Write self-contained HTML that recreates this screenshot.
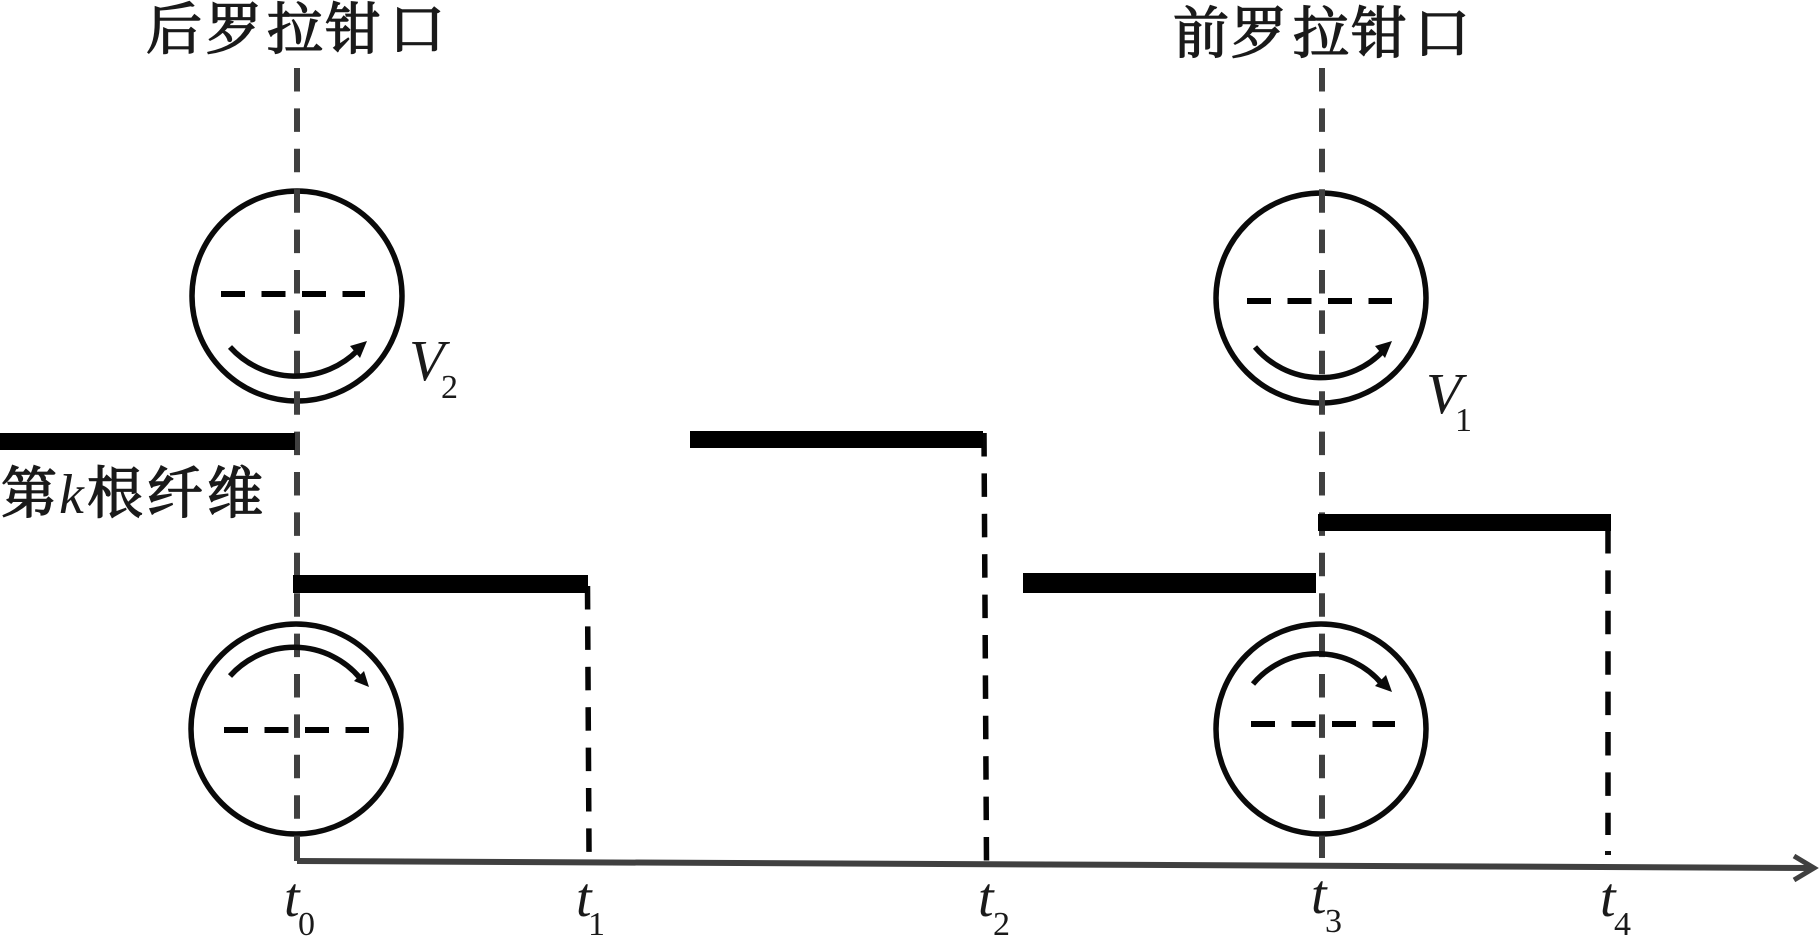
<!DOCTYPE html>
<html>
<head>
<meta charset="utf-8">
<style>
html,body{margin:0;padding:0;background:#fff;width:1820px;height:936px;overflow:hidden}
svg{display:block}
.cjk{font-family:"Liberation Serif","Noto Serif CJK SC",serif;font-size:56px;fill:#1a1a1a;stroke:#1a1a1a;stroke-width:1.5px}
.it{font-family:"Liberation Serif",serif;font-style:italic;fill:#1a1a1a}
.sub{font-family:"Liberation Serif",serif;fill:#1a1a1a;font-size:34px}
</style>
</head>
<body>
<svg width="1820" height="936" viewBox="0 0 1820 936" xmlns="http://www.w3.org/2000/svg">
<rect width="1820" height="936" fill="#fff"/>

<!-- titles -->
<text class="cjk" x="146 206 267 325 389" y="49">后罗拉钳口</text>
<text class="cjk" x="1173 1231 1293 1351 1414" y="53">前罗拉钳口</text>

<!-- fibre label -->
<text class="cjk" x="1" y="513">第</text>
<text class="it" x="59" y="513" font-size="56">k</text>
<text class="cjk" x="87" y="513">根</text>
<text class="cjk" x="147" y="513">纤</text>
<text class="cjk" x="207" y="513">维</text>

<!-- circles -->
<g fill="none" stroke="#0a0a0a" stroke-width="5.5">
<circle cx="297" cy="296" r="105"/>
<circle cx="1321" cy="298" r="105"/>
<circle cx="296" cy="729" r="105"/>
<circle cx="1321" cy="729" r="105"/>
</g>

<!-- horizontal dashes in circles -->
<g stroke="#000" stroke-width="6" fill="none" stroke-dasharray="24 16.5">
<line x1="221" y1="294" x2="365" y2="294"/>
<line x1="1247" y1="301" x2="1392" y2="301"/>
<line x1="224" y1="730" x2="369" y2="730"/>
<line x1="1251" y1="724" x2="1395" y2="724"/>
</g>

<!-- vertical centre lines -->
<g stroke="#404040" stroke-width="6" fill="none" stroke-dasharray="23.5 16.9">
<line x1="297" y1="68" x2="297" y2="858"/>
<line x1="1322" y1="68" x2="1322" y2="858"/>
</g>

<!-- black dashed drop lines -->
<g stroke="#050505" stroke-width="5.5" fill="none" stroke-dasharray="23.5 16.9">
<line x1="587.5" y1="586" x2="589" y2="852"/>
<line x1="984" y1="433" x2="986.5" y2="862"/>
<line x1="1608" y1="530" x2="1608" y2="835"/>
</g>
<rect x="1605" y="851" width="6" height="4" fill="#111"/>

<!-- thick bars -->
<g fill="#000">
<rect x="0" y="433" width="295" height="17"/>
<rect x="690" y="431" width="293" height="17"/>
<rect x="293" y="575" width="295" height="18"/>
<rect x="1023" y="573" width="293" height="20"/>
<rect x="1318" y="514" width="293" height="17"/>
</g>

<!-- rotation arrows -->
<g fill="none" stroke="#0a0a0a" stroke-width="5.5">
<path d="M230 347 A88 88 0 0 0 358 350"/>
<path d="M1255 347 A86 86 0 0 0 1384 350"/>
<path d="M230 676 A86 86 0 0 1 360 678"/>
<path d="M1253 684 A84 84 0 0 1 1382 684"/>
</g>
<g fill="#0a0a0a">
<polygon points="367,341 350,346 360,358"/>
<polygon points="1392,341 1375,346 1385,358"/>
<polygon points="369,687 354,681 364,671"/>
<polygon points="1392,692 1375,686 1386,675"/>
</g>

<!-- axis -->
<g stroke="#404040" fill="none">
<line x1="297" y1="861" x2="1814" y2="868" stroke-width="6"/>
<polyline points="1794,856 1814,868 1794,880" stroke-width="5"/>
</g>
<line x1="297" y1="840" x2="297" y2="861" stroke="#404040" stroke-width="6"/>

<!-- V labels -->
<text class="it" x="409" y="380" font-size="58">V</text>
<text class="sub" x="441" y="398">2</text>
<text class="it" x="1426" y="413" font-size="58">V</text>
<text class="sub" x="1455" y="431">1</text>

<!-- t labels -->
<text class="it" x="284" y="916" font-size="56">t</text>
<text class="sub" x="298" y="935">0</text>
<text class="it" x="576" y="916" font-size="56">t</text>
<text class="sub" x="588" y="935">1</text>
<text class="it" x="978" y="916" font-size="56">t</text>
<text class="sub" x="993" y="935">2</text>
<text class="it" x="1311" y="913" font-size="56">t</text>
<text class="sub" x="1325" y="932">3</text>
<text class="it" x="1600" y="916" font-size="56">t</text>
<text class="sub" x="1614" y="935">4</text>
</svg>
</body>
</html>
